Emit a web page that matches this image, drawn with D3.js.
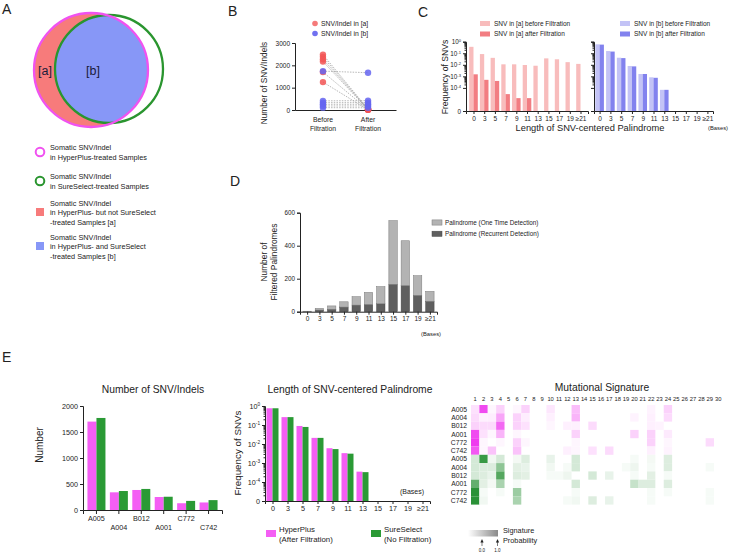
<!DOCTYPE html>
<html><head><meta charset="utf-8">
<script src="https://cdn.jsdelivr.net/npm/d3@7"></script>
<style>body{margin:0;background:#fff}</style>
</head><body>
<script>
// ---------------- DATA ----------------
const bBeforeRed  = [2480, 2380, 2270, 2170, 1700, 1250];
const bAfterRed   = [40, 25, 30, 15, 20, 10];
const bBeforeBlue = [1740, 410, 330, 255, 180, 105];
const bAfterBlue  = [1670, 420, 330, 255, 180, 100];
const bCats = ["Before", "After"];
const bTicks = [0, 1000, 2000, 3000];

const palCats = ["0","3","5","7","9","11","13","15","17","19","≥21"];
const cBeforeA = [0.36, 0.085, 0.04, 0.011, 0.011, 0.0096, 0.0083, 0.036, 0.03, 0.017, 0.012];
const cAfterA  = [0.0015, 0.0005, 0.0004, 0.000029, 0.000013, 0.000013, 0, 0, 0, 0, 0];
const cBeforeB = [0.59, 0.155, 0.041, 0.0079, 0.0016, 0.00083, 0.000068, 0, 0, 0, 0];
const cAfterB  = [0.56, 0.14, 0.038, 0.0073, 0.0016, 0.00075, 0.000068, 0, 0, 0, 0];

const dOneTime   = [2, 10, 20, 32, 51, 73, 104, 386, 272, 119, 60];
const dRecurrent = [1, 10, 15, 28, 40, 44, 48, 166, 158, 99, 63];
const dTicks = [0, 200, 400, 600];

const samples = ["A005","A004","B012","A001","C772","C742"];
const eHyper  = [1700, 340, 385, 250, 130, 145];
const eSure   = [1770, 365, 405, 255, 175, 190];
const eTicks  = [0, 500, 1000, 1500, 2000];
const eLenHyper = [0.76, 0.26, 0.089, 0.021, 0.006, 0.0033, 0.00035, 0, 0, 0, 0];
const eLenSure  = [0.76, 0.26, 0.079, 0.021, 0.0054, 0.0031, 0.00033, 0, 0, 0, 0];

const sigCols = d3.range(1, 31);
const sigHyper = [
 [0.10,0.60,0.03,0.15,0,0.03,0.15,0,0,0.08,0,0,0.22,0,0,0,0,0,0,0,0,0.04,0,0.15,0,0,0,0,0,0],
 [0.12,0.05,0.06,0.30,0,0.15,0.06,0,0,0.05,0,0,0.25,0,0,0,0,0,0,0.04,0,0.05,0,0.12,0,0,0,0,0,0],
 [0.15,0.12,0.12,0.50,0,0.15,0.10,0,0,0.03,0,0.05,0.05,0,0.12,0,0,0,0,0,0,0.05,0.04,0,0,0,0,0,0,0],
 [0.60,0.10,0.03,0.25,0,0.03,0,0,0,0,0,0,0.15,0,0,0,0,0,0,0.15,0,0.15,0,0.07,0,0,0,0,0,0],
 [0.65,0.03,0,0.03,0,0.15,0.03,0,0,0,0,0,0.03,0,0,0,0,0,0,0,0,0.15,0,0.03,0,0,0,0,0.12,0],
 [0.55,0.03,0.20,0,0,0.20,0,0,0,0,0,0.05,0.03,0,0.10,0,0.12,0,0,0,0,0.05,0,0.04,0,0,0,0,0,0]
];
const sigSure = [
 [0.15,0.70,0.05,0.15,0,0.04,0.12,0,0,0.08,0,0,0.15,0,0,0,0,0,0,0.03,0,0.04,0,0.12,0,0,0,0,0,0],
 [0.15,0.12,0.12,0.40,0,0.10,0.08,0,0,0.05,0,0.03,0.15,0,0,0,0,0,0.03,0.06,0,0.03,0,0.12,0,0,0,0,0.03,0],
 [0.15,0.12,0.08,0.60,0,0.12,0.10,0,0,0.03,0.03,0.06,0,0,0.15,0,0.08,0,0,0.03,0,0.10,0,0.03,0,0,0,0,0,0],
 [0.55,0.10,0.04,0.30,0,0.03,0,0,0,0,0,0,0.15,0,0,0,0,0,0,0.20,0.12,0.12,0,0.12,0,0,0,0,0,0],
 [0.75,0.03,0,0.03,0,0.35,0,0,0,0,0,0,0.03,0,0,0,0,0,0,0,0,0.03,0,0.03,0,0,0,0,0.03,0],
 [0.75,0.05,0,0,0,0.30,0,0,0,0,0,0.03,0.05,0,0.12,0,0.08,0,0,0,0,0.03,0,0,0,0,0,0,0.03,0]
];

// ---------------- SETUP ----------------
const FONT = '"Liberation Sans", Arial, Helvetica, sans-serif';
const INK = "#222";
const fmtInt = d3.format("d");
const svg = d3.select("body").append("svg")
  .attr("width", 730).attr("height", 554)
  .style("font-family", FONT);

function txt(x, y, s, size, o = {}) {
  const t = svg.append("text").attr("x", x).attr("y", y)
    .attr("font-size", size).attr("fill", o.fill || INK).text(s);
  if (o.anchor) t.attr("text-anchor", o.anchor);
  if (o.rotate) t.attr("transform", `rotate(-90,${x},${y})`);
  return t;
}
function styleAxis(g, size) {
  g.attr("font-family", FONT).attr("font-size", size);
  g.selectAll("path,line").attr("stroke", INK);
  g.selectAll("text").attr("fill", INK);
}
function supLabels(g, minV) {
  g.selectAll(".tick text").each(function (d) {
    const t = d3.select(this); t.text("");
    if (d <= minV * 1.0001) { t.text("0"); return; }
    t.append("tspan").text("10");
    t.append("tspan").attr("dy", "-0.55em").attr("font-size", "0.65em")
      .text(Math.round(Math.log10(d)));
  });
}
function minorTicks(lo, hi) {
  const out = [];
  for (let e = Math.round(Math.log10(lo)); e < Math.round(Math.log10(hi)); e++)
    for (let m = 2; m <= 9; m++) out.push(m * Math.pow(10, e));
  return out;
}

// ---------------- PANEL A ----------------
txt(2, 14, "A", 14);
const vennPink = { cx: 91, cy: 70, r: 57 };
const vennGreen = { cx: 109, cy: 69, r: 54 };
const defs = svg.append("defs");
defs.append("clipPath").attr("id", "clipPink").append("circle")
  .attr("cx", vennPink.cx).attr("cy", vennPink.cy).attr("r", vennPink.r);
svg.append("circle").attr("cx", vennPink.cx).attr("cy", vennPink.cy).attr("r", vennPink.r)
  .attr("fill", "#f77b7b");
svg.append("circle").attr("cx", vennGreen.cx).attr("cy", vennGreen.cy).attr("r", vennGreen.r)
  .attr("fill", "#8797f7").attr("clip-path", "url(#clipPink)");
svg.append("circle").attr("cx", vennGreen.cx).attr("cy", vennGreen.cy).attr("r", vennGreen.r)
  .attr("fill", "none").attr("stroke", "#2a952f").attr("stroke-width", 2.3);
svg.append("circle").attr("cx", vennPink.cx).attr("cy", vennPink.cy).attr("r", vennPink.r)
  .attr("fill", "none").attr("stroke", "#f052f0").attr("stroke-width", 2.3);
txt(45, 75, "[a]", 12.5, { anchor: "middle", fill: "#1a1a3a" });
txt(93, 75, "[b]", 12.5, { anchor: "middle", fill: "#1a1a3a" });

const legA = [
  { type: "ring", color: "#f052f0", y: 152, lines: ["Somatic SNV/Indel", "in HyperPlus-treated Samples"] },
  { type: "ring", color: "#2a952f", y: 181, lines: ["Somatic SNV/Indel", "in SureSelect-treated Samples"] },
  { type: "sq", color: "#f77b7b", y: 212, lines: ["Somatic SNV/Indel", "in HyperPlus- but not SureSelect", "-treated Samples [a]"] },
  { type: "sq", color: "#8797f7", y: 246, lines: ["Somatic SNV/Indel", "in HyperPlus- and SureSelect", "-treated Samples [b]"] }
];
legA.forEach(l => {
  if (l.type === "ring")
    svg.append("circle").attr("cx", 40).attr("cy", l.y).attr("r", 4.3)
      .attr("fill", "none").attr("stroke", l.color).attr("stroke-width", 2);
  else
    svg.append("rect").attr("x", 36).attr("y", l.y - 4).attr("width", 8).attr("height", 8)
      .attr("fill", l.color);
  const n = l.lines.length;
  l.lines.forEach((s, i) => txt(50, l.y + 3 + (i - (n - 1) / 2) * 9.5, s, 7.3));
});

// ---------------- PANEL B ----------------
txt(228, 16, "B", 14);
const xB = d3.scalePoint().domain(bCats).range([295, 396]).padding(0.62);
const yB = d3.scaleLinear().domain([0, 3000]).range([110, 43]);
const gBy = svg.append("g").attr("transform", "translate(295,0)")
  .call(d3.axisLeft(yB).tickValues(bTicks).tickFormat(fmtInt).tickSize(3).tickPadding(2));
styleAxis(gBy, 6.5);
const gBx = svg.append("g").attr("transform", "translate(0,110)")
  .call(d3.axisBottom(xB).tickSize(0).tickFormat(""));
styleAxis(gBx, 6.5);
const bLab = { Before: ["Before", "Filtration"], After: ["After", "Filtration"] };
bCats.forEach(c => bLab[c].forEach((s, i) => txt(xB(c), 122 + i * 9, s, 6.8, { anchor: "middle" })));
txt(267, 83, "Number of SNV/Indels", 8.3, { anchor: "middle", rotate: true });
[[bBeforeRed, bAfterRed], [bBeforeBlue, bAfterBlue]].forEach(([b, a]) => {
  b.forEach((v, i) => svg.append("line")
    .attr("x1", xB("Before")).attr("y1", yB(v)).attr("x2", xB("After")).attr("y2", yB(a[i]))
    .attr("stroke", "#9a9a9a").attr("stroke-width", 0.7).attr("stroke-dasharray", "1.5,1.2"));
});
function dots(vals, cat, color) {
  vals.forEach(v => svg.append("circle").attr("cx", xB(cat)).attr("cy", yB(v)).attr("r", 3.2)
    .attr("fill", color).attr("fill-opacity", 0.85));
}
dots(bBeforeRed, "Before", "#f25555"); dots(bAfterRed, "After", "#f25555");
dots(bBeforeBlue, "Before", "#6565f0"); dots(bAfterBlue, "After", "#6565f0");
[["SNV/Indel in [a]", "#f57a7a", 23.5], ["SNV/Indel in [b]", "#7070f0", 33.5]].forEach(([s, c, y]) => {
  svg.append("circle").attr("cx", 315).attr("cy", y).attr("r", 2.8).attr("fill", c);
  txt(321, y + 2.5, s, 6.8);
});

// ---------------- PANEL C ----------------
txt(418, 17, "C", 14);
const cY = d3.scaleLog().domain([1e-6, 1]).range([111, 41.7]);
function drawCPanel(x0, x1, pad, before, after, colB, colA, labels) {
  const xs = d3.scalePoint().domain(palCats).range([x0, x1]).padding(pad);
  const gy = svg.append("g").attr("transform", `translate(${x0},0)`)
    .call(d3.axisLeft(cY).tickValues([1, 1e-1, 1e-2, 1e-3, 1e-4, 1e-6]).tickSize(3).tickPadding(2));
  styleAxis(gy, 6.3);
  if (labels) supLabels(gy, 1e-6); else gy.selectAll(".tick text").remove();
  const gm = svg.append("g").attr("transform", `translate(${x0},0)`)
    .call(d3.axisLeft(cY).tickValues(minorTicks(1e-4, 1)).tickSize(1.5).tickFormat(""));
  styleAxis(gm, 6); gm.select(".domain").remove();
  const gx = svg.append("g").attr("transform", `translate(0,${cY(1e-6)})`)
    .call(d3.axisBottom(xs).tickSize(3).tickPadding(2));
  styleAxis(gx, 6.5);
  const bw = 4.3;
  [[before, colB, -bw], [after, colA, 0]].forEach(([vals, col, off]) => {
    vals.forEach((v, i) => { if (v > 0) svg.append("rect")
      .attr("x", xs(palCats[i]) + off).attr("width", bw)
      .attr("y", cY(v)).attr("height", cY(1e-6) - cY(v)).attr("fill", col); });
  });
}
drawCPanel(466, 588, 0.7, cBeforeA, cAfterA, "#f8bcbc", "#f27d82", true);
drawCPanel(594, 713, 0.52, cBeforeB, cAfterB, "#c3c3f6", "#8282ee", false);
txt(448, 77, "Frequency of SNVs", 8.6, { anchor: "middle", rotate: true });
txt(590, 131, "Length of SNV-centered Palindrome", 9.3, { anchor: "middle" });
txt(718, 130, "(Bases)", 5.8, { anchor: "middle" });
[[480, "#f8bcbc", "SNV in [a] before Filtration", 23.5], [480, "#f27d82", "SNV in [a] after Filtration", 34],
 [620, "#c3c3f6", "SNV in [b] before Filtration", 23.5], [620, "#8282ee", "SNV in [b] after Filtration", 34]]
 .forEach(([x, c, s, y]) => {
  svg.append("rect").attr("x", x).attr("y", y - 2.5).attr("width", 10).attr("height", 5).attr("fill", c);
  txt(x + 14, y + 2.3, s, 6.5);
});

// ---------------- PANEL D ----------------
txt(230, 186, "D", 14);
const xD = d3.scalePoint().domain(palCats).range([300, 437]).padding(0.58);
const yD = d3.scaleLinear().domain([0, 600]).range([311.7, 212.7]);
const gDy = svg.append("g").attr("transform", "translate(300,0)")
  .call(d3.axisLeft(yD).tickValues(dTicks).tickFormat(fmtInt).tickSize(3).tickPadding(2));
styleAxis(gDy, 6.3);
const stackD = d3.stack().keys(["rec", "one"])(
  palCats.map((c, i) => ({ cat: c, rec: dRecurrent[i], one: dOneTime[i] })));
const dCol = { rec: ["#5f5f5f", "#474747"], one: ["#b3b3b3", "#7a7a7a"] };
stackD.forEach(layer => layer.forEach(d => {
  svg.append("rect").attr("x", xD(d.data.cat) - 4.2).attr("width", 8.4)
    .attr("y", yD(d[1])).attr("height", yD(d[0]) - yD(d[1]))
    .attr("fill", dCol[layer.key][0]).attr("stroke", dCol[layer.key][1]).attr("stroke-width", 0.5);
}));
const gDx = svg.append("g").attr("transform", "translate(0,311.7)")
  .call(d3.axisBottom(xD).tickSize(3).tickPadding(2));
styleAxis(gDx, 6.5);
txt(267, 262, "Number of", 8.4, { anchor: "middle", rotate: true });
txt(277, 262, "Filtered Palindromes", 8.4, { anchor: "middle", rotate: true });
txt(431, 336, "(Bases)", 5.8, { anchor: "middle" });
[["#b3b3b3", "#7a7a7a", "Palindrome (One Time Detection)", 222.5], ["#5f5f5f", "#474747", "Palindrome (Recurrent Detection)", 233.8]]
 .forEach(([c, s2, s, y]) => {
  svg.append("rect").attr("x", 432).attr("y", y - 2.6).attr("width", 10).attr("height", 5.2)
    .attr("fill", c).attr("stroke", s2).attr("stroke-width", 0.5);
  txt(445, y + 2.3, s, 6.3);
});

// ---------------- PANEL E ----------------
txt(2, 362, "E", 14);
const PINK = "#f45ef4", GREEN = "#2a9a35";
// E left
const xE1 = d3.scaleBand().domain(samples).range([83, 222]).paddingInner(0.2).paddingOuter(0.2);
const yE1 = d3.scaleLinear().domain([0, 2000]).range([510, 406]);
const gE1y = svg.append("g").attr("transform", "translate(83,0)")
  .call(d3.axisLeft(yE1).tickValues(eTicks).tickFormat(fmtInt).tickSize(3).tickPadding(2));
styleAxis(gE1y, 7.2);
samples.forEach((s, i) => {
  const c = xE1(s) + xE1.bandwidth() / 2, w = 9;
  svg.append("rect").attr("x", c - w).attr("width", w).attr("y", yE1(eHyper[i]))
    .attr("height", yE1(0) - yE1(eHyper[i])).attr("fill", PINK);
  svg.append("rect").attr("x", c).attr("width", w).attr("y", yE1(eSure[i]))
    .attr("height", yE1(0) - yE1(eSure[i])).attr("fill", GREEN);
});
const gE1x = svg.append("g").attr("transform", "translate(0,510)")
  .call(d3.axisBottom(xE1).tickSize(4).tickPadding(2));
styleAxis(gE1x, 7.2);
gE1x.selectAll(".tick text").attr("dy", (d, i) => i % 2 ? "1.95em" : "0.71em");
txt(153, 393, "Number of SNV/Indels", 10.3, { anchor: "middle" });
txt(43, 445, "Number", 10, { anchor: "middle", rotate: true });

// E middle
const xE2 = d3.scalePoint().domain(palCats).range([265, 430]).padding(0.5);
const yE2 = d3.scaleLog().domain([1e-5, 1]).range([501, 406]);
const gE2y = svg.append("g").attr("transform", "translate(265,0)")
  .call(d3.axisLeft(yE2).tickValues([1, 1e-1, 1e-2, 1e-3, 1e-4, 1e-5]).tickSize(3).tickPadding(2));
styleAxis(gE2y, 7.2); supLabels(gE2y, 1e-5);
const gE2m = svg.append("g").attr("transform", "translate(265,0)")
  .call(d3.axisLeft(yE2).tickValues(minorTicks(1e-5, 1)).tickSize(1.5).tickFormat(""));
styleAxis(gE2m, 6); gE2m.select(".domain").remove();
[[eLenHyper, PINK, -6], [eLenSure, GREEN, 0]].forEach(([vals, col, off]) => {
  vals.forEach((v, i) => { if (v > 0) svg.append("rect")
    .attr("x", xE2(palCats[i]) + off).attr("width", 6)
    .attr("y", yE2(v)).attr("height", yE2(1e-5) - yE2(v)).attr("fill", col); });
});
const gE2x = svg.append("g").attr("transform", "translate(0,501)")
  .call(d3.axisBottom(xE2).tickSize(3).tickPadding(2));
styleAxis(gE2x, 7.2);
txt(350, 393, "Length of SNV-centered Palindrome", 10.3, { anchor: "middle" });
txt(241, 453, "Frequency of SNVs", 9.8, { anchor: "middle", rotate: true });
txt(412, 494, "(Bases)", 7, { anchor: "middle" });
[[266, PINK, ["HyperPlus", "(After Filtration)"]], [371, GREEN, ["SureSelect", "(No Filtration)"]]]
 .forEach(([x, c, ls]) => {
  svg.append("rect").attr("x", x).attr("y", 530).attr("width", 10).attr("height", 7).attr("fill", c);
  ls.forEach((s, i) => txt(x + 13, 532 + i * 9.7, s, 7.8));
});

// E right heatmap
const xH = d3.scaleBand().domain(sigCols).range([471, 722.4]);
const rowIdx = d3.range(12);
const yH = d3.scaleBand().domain(rowIdx).range([405, 504.6]);
const pinkScale = d3.scaleLinear().domain([0, 0.7]).range(["#ffffff", "#ee2cee"]).clamp(true);
const greenScale = d3.scaleLinear().domain([0, 0.8]).range(["#ffffff", "#1c8a2a"]).clamp(true);
[[sigHyper, pinkScale, 0], [sigSure, greenScale, 6]].forEach(([mat, sc, r0]) => {
  mat.forEach((row, ri) => row.forEach((v, ci) => {
    if (v > 0) svg.append("rect").attr("x", xH(sigCols[ci])).attr("y", yH(r0 + ri))
      .attr("width", xH.bandwidth()).attr("height", yH.bandwidth()).attr("fill", sc(v));
  }));
});
sigCols.forEach(c => txt(xH(c) + xH.bandwidth() / 2, 400.5, String(c), 5.8, { anchor: "middle" }));
rowIdx.forEach(r => txt(467, yH(r) + yH.bandwidth() / 2 + 2.5, samples[r % 6], 6.8, { anchor: "end" }));
txt(602, 391, "Mutational Signature", 10.3, { anchor: "middle" });
const grad = defs.append("linearGradient").attr("id", "gsig");
grad.append("stop").attr("offset", "0%").attr("stop-color", "#ffffff");
grad.append("stop").attr("offset", "100%").attr("stop-color", "#8a8a8a");
svg.append("rect").attr("x", 468).attr("y", 530).attr("width", 30).attr("height", 6.5).attr("fill", "url(#gsig)");
txt(503, 532.5, "Signature", 7.3); txt(503, 542.5, "Probability", 7.3);
[[482, "0.0"], [497.5, "1.0"]].forEach(([x, s]) => {
  svg.append("path").attr("d", `M${x},539 l-1.6,3.5 h3.2 z`).attr("fill", INK);
  svg.append("line").attr("x1", x).attr("x2", x).attr("y1", 541).attr("y2", 546).attr("stroke", INK).attr("stroke-width", 0.6);
  txt(x, 552, s, 4.5, { anchor: "middle" });
});
</script>
</body></html>
